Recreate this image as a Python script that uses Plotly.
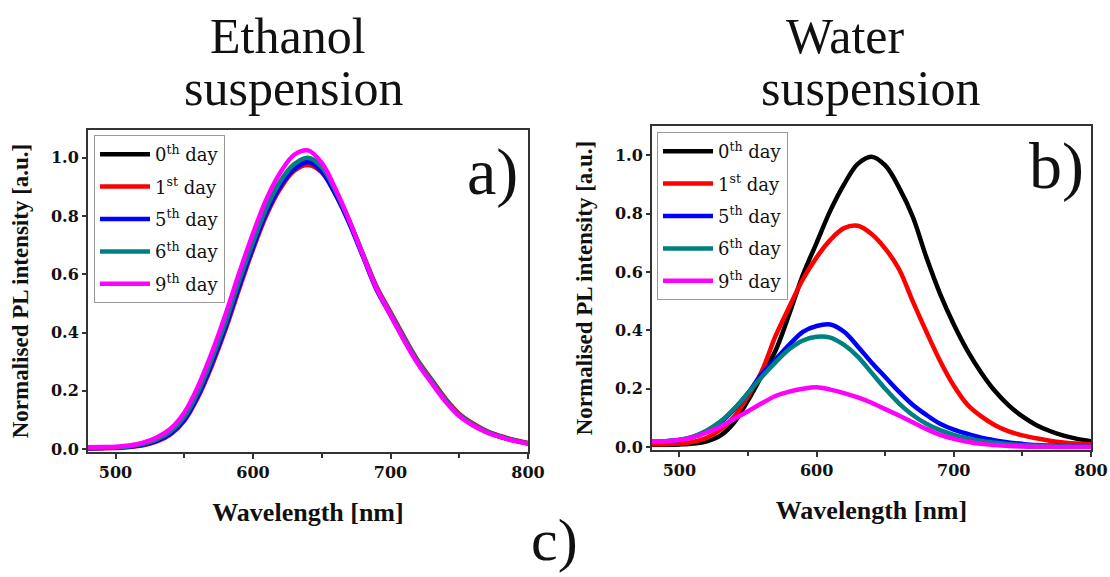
import plotly.graph_objects as go

# ---------------- data ----------------
wavelength = [480, 490, 500, 510, 520, 530, 540, 550, 560, 570, 580, 590, 600,
              610, 620, 630, 640, 650, 660, 670, 680, 690, 700, 710, 720, 730,
              740, 750, 760, 770, 780, 790, 800]

day_labels = ["0<sup>th</sup> day", "1<sup>st</sup> day", "5<sup>th</sup> day",
              "6<sup>th</sup> day", "9<sup>th</sup> day"]
colors = ["#000000", "#ff0000", "#0000ff", "#008080", "#ff00ff"]

# Ethanol suspension (panel a)
eth_day0 = [0.003, 0.004, 0.005, 0.009, 0.016, 0.030, 0.056, 0.105, 0.190, 0.300, 0.425, 0.570, 0.700,
            0.820, 0.910, 0.970, 0.995, 0.960, 0.880, 0.780, 0.665, 0.550, 0.465, 0.380, 0.300, 0.235,
            0.170, 0.118, 0.085, 0.060, 0.043, 0.030, 0.020]
eth_day1 = [0.002, 0.003, 0.004, 0.007, 0.013, 0.026, 0.050, 0.097, 0.178, 0.285, 0.410, 0.550, 0.685,
            0.805, 0.895, 0.955, 0.975, 0.950, 0.875, 0.780, 0.668, 0.556, 0.470, 0.384, 0.303, 0.238,
            0.173, 0.121, 0.088, 0.062, 0.045, 0.031, 0.021]
eth_day5 = [0.003, 0.004, 0.005, 0.008, 0.015, 0.028, 0.053, 0.100, 0.183, 0.293, 0.418, 0.560, 0.693,
            0.813, 0.903, 0.960, 0.985, 0.952, 0.874, 0.775, 0.660, 0.546, 0.460, 0.375, 0.295, 0.231,
            0.167, 0.116, 0.083, 0.059, 0.042, 0.029, 0.019]
eth_day6 = [0.004, 0.005, 0.006, 0.010, 0.018, 0.033, 0.060, 0.110, 0.196, 0.308, 0.435, 0.578, 0.710,
            0.830, 0.920, 0.978, 1.000, 0.968, 0.886, 0.784, 0.668, 0.553, 0.466, 0.380, 0.300, 0.234,
            0.169, 0.118, 0.085, 0.060, 0.043, 0.030, 0.020]
eth_day9 = [0.006, 0.007, 0.008, 0.012, 0.022, 0.040, 0.070, 0.125, 0.215, 0.330, 0.462, 0.605, 0.740,
            0.860, 0.950, 1.010, 1.025, 0.982, 0.893, 0.785, 0.665, 0.550, 0.460, 0.372, 0.292, 0.226,
            0.163, 0.113, 0.081, 0.057, 0.041, 0.028, 0.019]

# Water suspension (panel b)
wat_day0 = [0.008, 0.008, 0.009, 0.012, 0.020, 0.040, 0.085, 0.160, 0.245, 0.330, 0.455, 0.590, 0.700,
            0.810, 0.900, 0.970, 0.995, 0.965, 0.890, 0.790, 0.650, 0.525, 0.420, 0.330, 0.255, 0.192,
            0.143, 0.105, 0.076, 0.055, 0.039, 0.028, 0.020]
wat_day1 = [0.010, 0.010, 0.012, 0.018, 0.032, 0.060, 0.105, 0.175, 0.260, 0.380, 0.480, 0.575, 0.650,
            0.710, 0.750, 0.758, 0.730, 0.680, 0.610, 0.500, 0.395, 0.295, 0.210, 0.145, 0.105, 0.075,
            0.054, 0.040, 0.030, 0.022, 0.016, 0.012, 0.010]
wat_day5 = [0.018, 0.020, 0.024, 0.035, 0.055, 0.085, 0.130, 0.185, 0.250, 0.300, 0.350, 0.395, 0.415,
            0.420, 0.395, 0.345, 0.290, 0.240, 0.190, 0.145, 0.110, 0.080, 0.060, 0.045, 0.032, 0.023,
            0.016, 0.011, 0.007, 0.005, 0.003, 0.002, 0.001]
wat_day6 = [0.018, 0.020, 0.025, 0.036, 0.057, 0.088, 0.132, 0.185, 0.240, 0.290, 0.335, 0.365, 0.378,
            0.375, 0.350, 0.310, 0.255, 0.200, 0.150, 0.110, 0.080, 0.058, 0.042, 0.030, 0.021, 0.015,
            0.010, 0.007, 0.005, 0.003, 0.002, 0.001, 0.001]
wat_day9 = [0.018, 0.020, 0.024, 0.033, 0.050, 0.070, 0.097, 0.123, 0.150, 0.175, 0.190, 0.200, 0.205,
            0.197, 0.185, 0.170, 0.152, 0.130, 0.108, 0.085, 0.062, 0.042, 0.028, 0.018, 0.011, 0.007,
            0.004, 0.002, 0.001, 0.001, 0.000, 0.000, 0.000]

ethanol_series = [eth_day0, eth_day1, eth_day5, eth_day6, eth_day9]
water_series = [wat_day0, wat_day1, wat_day5, wat_day6, wat_day9]

x_ticks = [500, 600, 700, 800]
y_ticks = [0.0, 0.2, 0.4, 0.6, 0.8, 1.0]

# ---------------- figure ----------------
W, H = 1110, 577
fig = go.Figure()

for i, (name, ys, c) in enumerate(zip(day_labels, ethanol_series, colors)):
    fig.add_trace(go.Scatter(x=wavelength, y=ys, name=name, mode="lines",
                             line=dict(color=c, width=4.5, shape="spline"),
                             legendgroup=f"eth{i}",
                             xaxis="x", yaxis="y", legend="legend"))
for i, (name, ys, c) in enumerate(zip(day_labels, water_series, colors)):
    fig.add_trace(go.Scatter(x=wavelength, y=ys, name=name, mode="lines",
                             line=dict(color=c, width=4.5, shape="spline"),
                             legendgroup=f"wat{i}",
                             xaxis="x2", yaxis="y2", legend="legend2"))

SERIF = "DejaVu Serif, serif"
NARROW = "Liberation Serif, serif"
tick_font = dict(family=SERIF, size=16, color="#111", weight="bold")
title_font = dict(family=NARROW, size=26, color="#111", weight="bold")
ytitle_font = dict(family=NARROW, size=23, color="#111", weight="bold")


def xaxis_cfg(domain):
    return dict(domain=domain, range=[480, 800], tickvals=x_ticks,
                ticks="outside", ticklen=5, tickwidth=1.5, tickcolor="#333",
                minor=dict(dtick=50, tick0=500, ticks="outside", ticklen=4, tickcolor="#333"),
                showline=True, mirror=True, linecolor="#333", linewidth=2,
                showgrid=False, zeroline=False, tickfont=tick_font,
                title=dict(text="Wavelength [nm]", font=title_font, standoff=22),
                automargin=False)


def yaxis_cfg(domain, rng):
    return dict(domain=domain, range=rng, tickvals=y_ticks, tickformat=".1f",
                ticks="outside", ticklen=4, tickwidth=1.5, tickcolor="#333",
                showline=True, mirror=True, linecolor="#333", linewidth=2,
                showgrid=False, zeroline=False, tickfont=tick_font,
                title=dict(text="Normalised PL intensity [a.u.]", font=ytitle_font, standoff=16),
                automargin=False)


legend_common = dict(xanchor="left", yanchor="top", bgcolor="white",
                     bordercolor="#999", borderwidth=1,
                     font=dict(family=SERIF, size=18, color="#111"),
                     itemwidth=50, tracegroupgap=6)

fig.update_layout(
    width=W, height=H,
    margin=dict(l=0, r=0, t=0, b=0),
    paper_bgcolor="white", plot_bgcolor="white",
    xaxis=xaxis_cfg([88 / W, 528 / W]),
    yaxis=yaxis_cfg([1 - 452 / H, 1 - 130 / H], [-0.01, 1.095]),
    xaxis2=xaxis_cfg([652 / W, 1091 / W]),
    yaxis2=yaxis_cfg([1 - 450 / H, 1 - 126 / H], [-0.01, 1.10]),
    legend=dict(x=94 / W, y=1 - 135 / H, **legend_common),
    legend2=dict(x=657 / W, y=1 - 132 / H, **legend_common),
    showlegend=True,
)
fig.layout.xaxis2.anchor = "y2"
fig.layout.yaxis2.anchor = "x2"

big_font = dict(family=NARROW, size=50, color="#111")
panel_font = dict(family=NARROW, size=66, color="#111")
c_font = dict(family=NARROW, size=60, color="#111")


def add_text(text, x, y, font):
    fig.add_annotation(text=text, x=x / W, y=1 - y / H, xref="paper", yref="paper",
                       xanchor="center", yanchor="middle", showarrow=False, font=font)


add_text("Ethanol", 288, 36, big_font)
add_text("suspension", 293, 88, big_font)
add_text("Water", 845, 36, big_font)
add_text("suspension", 870, 88, big_font)
add_text("a)", 492, 172, panel_font)
add_text("b)", 1056, 166, panel_font)
add_text("c)", 554, 540, c_font)

fig.write_html("out.html")
